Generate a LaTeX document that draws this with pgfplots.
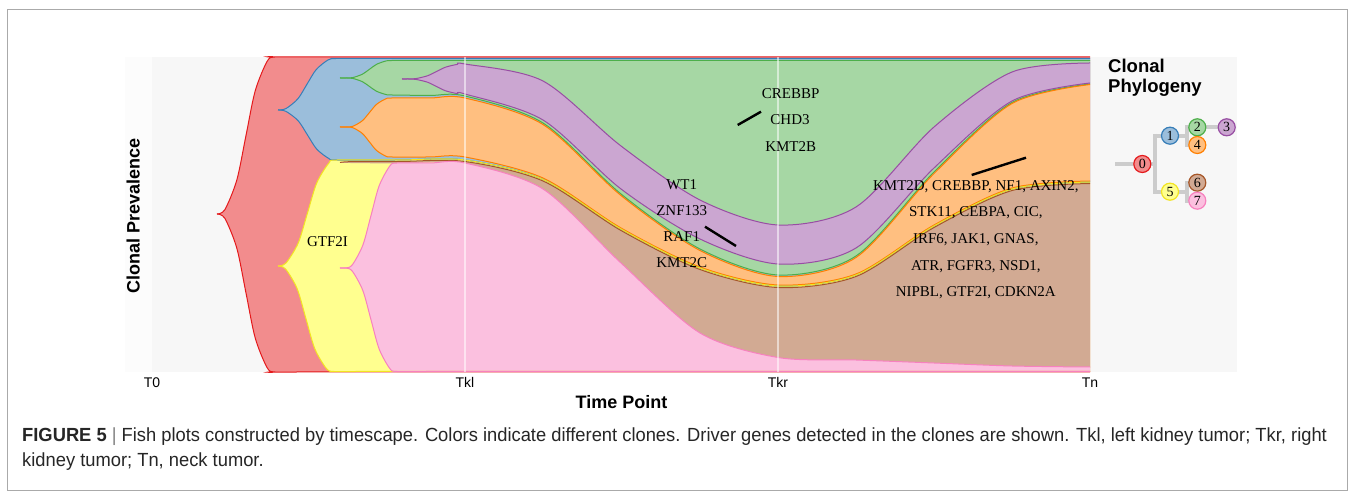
\documentclass[border=0pt]{standalone}
\usepackage{pgfplots}
\pgfplotsset{compat=1.18}
\usepgfplotslibrary{fillbetween}
\usepackage{fontspec}
\setmainfont{Liberation Sans}
\newfontfamily\seriff{Liberation Serif}
\newfontfamily\capfont[FakeStretch=0.965]{Liberation Sans}
\definecolor{c0}{HTML}{E41A1C}
\definecolor{c1}{HTML}{377EB8}
\definecolor{c2}{HTML}{4DAF4A}
\definecolor{c3}{HTML}{984EA3}
\definecolor{c4}{HTML}{FF7F00}
\definecolor{c5}{HTML}{F2E422}
\definecolor{c5f}{HTML}{FFFF8F}
\definecolor{c6}{HTML}{A65628}
\definecolor{c7}{HTML}{F781BF}
\definecolor{panel}{HTML}{F7F7F7}
\definecolor{treeg}{HTML}{CCCCCC}
\definecolor{framec}{HTML}{AAAAAA}
\begin{document}
\begin{tikzpicture}
\begin{axis}[
  set layers,
  scale only axis, width=938pt, height=315pt,
  xmin=152, xmax=1090, ymin=128, ymax=443,
  clip=false,
  axis line style={draw=none}, tick style={draw=none},
  major tick length=0pt,
  xtick={152,465,778,1090}, xticklabels={T0,Tkl,Tkr,Tn},
  xticklabel style={font=\fontsize{14}{16}\selectfont, anchor=center, yshift=-10.5pt},
  ytick=\empty,
  every axis plot/.append style={line width=1pt},
]
\begin{pgfonlayer}{axis background}
\fill[white] (axis cs:0,0) rectangle (axis cs:1356,500);
\draw[framec, line width=1pt] (axis cs:8,10) rectangle (axis cs:1347,490);
\fill[panel!40!white] (axis cs:125,128) rectangle (axis cs:152,443);
\fill[panel] (axis cs:152,128) rectangle (axis cs:1237,443);
\end{pgfonlayer}
% ---- clone 0 (red)
\addplot[name path=c0t, draw=c0, smooth] coordinates {(217,286) (224.9,290.4) (236.8,319.9) (246,364.5) (255.2,409.1) (267.1,438.6) (275,443) (300,443) (700,443) (1090,443)};
\addplot[name path=c0b, draw=c0, smooth] coordinates {(217,286) (224.9,281.6) (236.8,251.9) (246,207) (255.2,162.1) (267.1,132.4) (275,128) (300,128) (700,128) (1090,128)};
\addplot[fill=c0!50!white, draw=none] fill between[of=c0t and c0b];
% ---- clone 1 (blue)
\addplot[name path=c1t, draw=c1, smooth] coordinates {(278,390) (285.9,391.4) (297.8,401.1) (307,415.8) (316.2,430.4) (328.1,440.1) (336,441.5) (360,441.5) (700,441.5) (1090,441.5)};
\addplot[name path=c1b, draw=c1, smooth] coordinates {(278,390) (286,388.6) (298.2,379.2) (307.5,365) (316.8,350.8) (329,341.4) (337,340) (400,340) (465,340) (543,320.5) (621,271) (700,232) (778,214) (856,225) (934,274) (1012,311) (1090,318)};
\addplot[fill=c1!50!white, draw=none] fill between[of=c1t and c1b];
% ---- clone 2 (green)
\addplot[name path=c2t, draw=c2, smooth] coordinates {(340,422) (347,422) (353.1,422.5) (362.4,425.8) (369.5,430.75) (376.6,435.7) (385.9,439) (392,439.5) (420,439.5) (700,439.5) (1090,439.5)};
\addplot[name path=c2b, draw=c2, smooth] coordinates {(340,422) (347,422) (353.1,421.5) (362.4,418.3) (369.5,413.5) (376.6,408.7) (385.9,405.5) (392,405) (430,404.5) (465,404) (543,377) (621,306) (700,251) (778,225) (856,244) (934,328) (1012,397.5) (1090,416)};
\addplot[fill=c2!50!white, draw=none] fill between[of=c2t and c2b];
% ---- clone 3 (purple)
\addplot[name path=c3t, draw=c3, smooth] coordinates {(402,421) (408,421) (415.8,421.4) (427.5,424.2) (436.5,428.5) (445.5,432.8) (457.2,435.6) (465,436) (543,419) (621,354) (700,300) (778,275) (856,293) (934,373) (1012,428) (1090,437)};
\addplot[name path=c3b, draw=c3, smooth] coordinates {(402,421) (408,421) (415.8,420.6) (427.5,417.8) (436.5,413.5) (445.5,409.2) (457.2,406.4) (465,406) (543,380) (621,311) (700,261) (778,236) (856,252) (934,332) (1012,399) (1090,417)};
\addplot[fill=c3!50!white, draw=none] fill between[of=c3t and c3b];
% ---- clone 4 (orange)
\addplot[name path=c4t, draw=c4, smooth] coordinates {(340,373) (347,373) (353.1,373.8) (362.4,379.3) (369.5,387.5) (376.6,395.7) (385.9,401.2) (392,402) (430,402) (465,402) (543,375.5) (621,304.5) (700,249.5) (778,223.5) (856,242.5) (934,326.5) (1012,396.5) (1090,415.5)};
\addplot[name path=c4b, draw=c4, smooth] coordinates {(340,373) (347,373) (353.1,372.2) (362.4,366.5) (369.5,358) (376.6,349.5) (385.9,343.8) (392,343) (430,343) (465,343) (543,322) (621,272) (700,233) (778,215) (856,226) (934,275) (1012,312) (1090,319)};
\addplot[fill=c4!50!white, draw=none] fill between[of=c4t and c4b];
% ---- clone 5 (yellow)
\addplot[name path=c5t, draw=c5, smooth] coordinates {(278,234) (286,237) (298.2,256.9) (307.5,287) (316.8,317.1) (329,337) (337,340) (400,340) (465,340) (543,320.5) (621,271) (700,232) (778,214) (856,225) (934,274) (1012,311) (1090,318)};
\addplot[name path=c5b, draw=c5, smooth] coordinates {(278,234) (285.6,231) (297.2,211.2) (306,181.25) (314.8,151.3) (326.4,131.5) (334,128.5) (360,128.5) (700,128.5) (1090,128.5)};
\addplot[fill=c5f, draw=none] fill between[of=c5t and c5b];
% ---- clone 6 (brown)
\addplot[name path=c6t, draw=c6, smooth] coordinates {(340,337.5) (350,338.3) (400,338.5) (465,338.5) (543,319) (621,269.5) (700,230.5) (778,212.5) (856,223.5) (934,272.5) (1012,309.5) (1090,316.5)};
\addplot[name path=c6b, draw=none, smooth] coordinates {(340,337.5) (350,337) (400,336.5) (465,336.5) (543,310) (621,236) (700,166) (778,141.5) (856,139) (934,136) (1012,133) (1090,132)};
\addplot[fill=c6!50!white, draw=none] fill between[of=c6t and c6b];
% ---- clone 7 (pink)
\addplot[name path=c7t, draw=c7, smooth] coordinates {(340,232) (345,232) (352.1,234.9) (362.8,254.7) (371,284.5) (379.2,314.3) (389.9,334.1) (397,337) (430,337) (465,337) (543,311) (621,237) (700,167) (778,142.5) (856,140) (934,137) (1012,134) (1090,133)};
\addplot[name path=c7b, draw=c7, smooth] coordinates {(340,232) (345,232) (352.1,229.1) (362.8,209.6) (371,180.25) (379.2,150.9) (389.9,131.4) (397,128.5) (430,128.5) (700,128.5) (1090,128.5)};
\addplot[fill=c7!50!white, draw=none] fill between[of=c7t and c7b];
% ---- time point guide lines
\addplot[white, opacity=0.55, line width=2pt] coordinates {(465,128) (465,443)};
\addplot[white, opacity=0.55, line width=2pt] coordinates {(778,128) (778,443)};
% ---- annotation strokes
\addplot[black, line width=2.4pt] coordinates {(737.7,375) (761,388.3)};
\addplot[black, line width=2.4pt] coordinates {(705,273.3) (736,254)};
\addplot[black, line width=2.4pt] coordinates {(971.7,325) (1026,342.3)};
% ---- gene labels
\begin{scope}[every node/.style={font=\seriff\fontsize{15}{17}\selectfont, inner sep=0pt}]
\node at (axis cs:790.7,406.7) {CREBBP};
\node at (axis cs:790,380) {CHD3};
\node at (axis cs:790.7,353.3) {KMT2B};
\node at (axis cs:681.7,315) {WT1};
\node at (axis cs:681.7,289) {ZNF133};
\node at (axis cs:681.7,263) {RAF1};
\node at (axis cs:681.7,237) {KMT2C};
\node at (axis cs:975.8,313.3) {KMT2D, CREBBP, NF1, AXIN2,};
\node at (axis cs:975.8,287) {STK11, CEBPA, CIC,};
\node at (axis cs:975.8,260) {IRF6, JAK1, GNAS,};
\node at (axis cs:975.8,233.3) {ATR, FGFR3, NSD1,};
\node at (axis cs:975.8,207.3) {NIPBL, GTF2I, CDKN2A};
\node at (axis cs:327.5,258.3) {GTF2I};
\end{scope}
% ---- axis titles
\node[rotate=90, font=\bfseries\fontsize{18}{20}\selectfont] at (axis cs:133.3,284) {Clonal Prevalence};
\node[font=\bfseries\fontsize{18}{20}\selectfont] at (axis cs:621.5,98) {Time Point};
% ---- phylogeny
\node[anchor=west, font=\bfseries\fontsize{18.5}{20}\selectfont, inner sep=0pt] at (axis cs:1108,434) {Clonal};
\node[anchor=west, font=\bfseries\fontsize{18.5}{20}\selectfont, inner sep=0pt] at (axis cs:1108,412) {Phylogeny};
\addplot[treeg, line width=4pt, unbounded coords=jump] coordinates {
 (1115,336) (1155,336) (nan,nan)
 (1155,366.3) (1155,306.3) (nan,nan)
 (1155,364.3) (1170,364.3) (nan,nan)
 (1155,308.3) (1170,308.3) (nan,nan)
 (1170,364.3) (1186.7,364.3) (nan,nan)
 (1186.7,374.7) (1186.7,353) (nan,nan)
 (1186.7,372.7) (1226.7,372.7) (nan,nan)
 (1186.7,355) (1197.3,355) (nan,nan)
 (1170,308.3) (1186.7,308.3) (nan,nan)
 (1186.7,319.3) (1186.7,297.3) (nan,nan)
 (1186.7,317.3) (1197.3,317.3) (nan,nan)
 (1186.7,299.3) (1197.3,299.3)};
\addplot[only marks, mark=*, mark size=8.5pt, mark options={fill=c0!50!white, draw=c0, line width=1.2pt}] coordinates {(1142.3,336)};
\addplot[only marks, mark=*, mark size=8.5pt, mark options={fill=c1!50!white, draw=c1, line width=1.2pt}] coordinates {(1170,364.3)};
\addplot[only marks, mark=*, mark size=8.5pt, mark options={fill=c2!50!white, draw=c2, line width=1.2pt}] coordinates {(1197.3,372.7)};
\addplot[only marks, mark=*, mark size=8.5pt, mark options={fill=c3!50!white, draw=c3, line width=1.2pt}] coordinates {(1226.7,372.7)};
\addplot[only marks, mark=*, mark size=8.5pt, mark options={fill=c4!50!white, draw=c4, line width=1.2pt}] coordinates {(1197.3,355)};
\addplot[only marks, mark=*, mark size=8.5pt, mark options={fill=c5f, draw=c5, line width=1.2pt}] coordinates {(1170,308.3)};
\addplot[only marks, mark=*, mark size=8.5pt, mark options={fill=c6!50!white, draw=c6, line width=1.2pt}] coordinates {(1197.3,317.3)};
\addplot[only marks, mark=*, mark size=8.5pt, mark options={fill=c7!50!white, draw=c7, line width=1.2pt}] coordinates {(1197.3,299.3)};
\begin{pgfonlayer}{axis foreground}
\begin{scope}[every node/.style={font=\seriff\fontsize{14}{16}\selectfont, inner sep=0pt, text=black}]
\node at (axis cs:1142.3,336) {0};
\node at (axis cs:1170,364.3) {1};
\node at (axis cs:1197.3,372.7) {2};
\node at (axis cs:1226.7,372.7) {3};
\node at (axis cs:1197.3,355) {4};
\node at (axis cs:1170,308.3) {5};
\node at (axis cs:1197.3,317.3) {6};
\node at (axis cs:1197.3,299.3) {7};
\end{scope}
\end{pgfonlayer}
% ---- caption
\node[anchor=west, inner sep=0pt, text=black!85, font=\capfont\fontsize{19}{22}\selectfont] at (axis cs:22,63) {\textbf{FIGURE 5} {\color{black!50}|} Fish plots constructed by timescape. Colors indicate different clones. Driver genes detected in the clones are shown. Tkl, left kidney tumor; Tkr, right};
\node[anchor=west, inner sep=0pt, text=black!85, font=\capfont\fontsize{19}{22}\selectfont] at (axis cs:22,38) {kidney tumor; Tn, neck tumor.};
\end{axis}
\end{tikzpicture}
\end{document}
